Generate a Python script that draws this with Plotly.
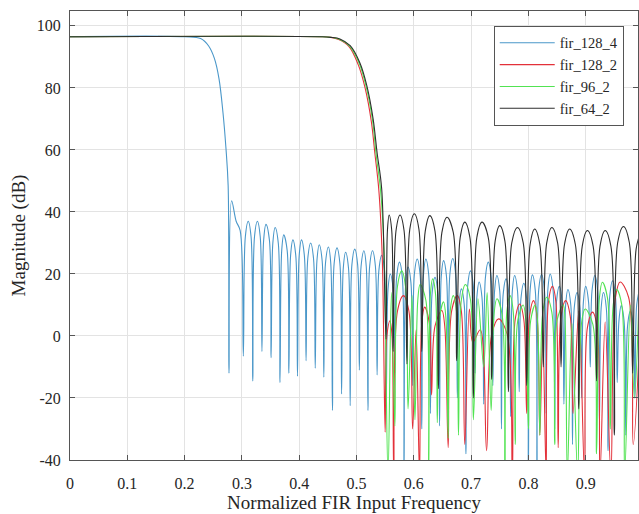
import plotly.graph_objects as go

# ---- values: (normalized frequency, magnitude in dB) ----
blue_pts = [
    (0.0, 96.5), (0.20, 96.5), (0.228, 95.9), (0.242, 93.5), (0.252, 89.5), (0.260, 83.0),
    (0.267, 72.0), (0.272, 61.0), (0.276, 48.5), (0.2775, -12.0), (0.282, 43.6), (0.290, 37.0),
    (0.297, 34.0),
    (0.3025, -6.5), (0.306, 32.0), (0.311, 37.0), (0.316, 32.0),
    (0.319, -14.5), (0.322, 32.0), (0.327, 37.0), (0.332, 32.0),
    (0.335, -5.0), (0.338, 31.0), (0.342, 36.0), (0.348, 31.0),
    (0.351, -7.0), (0.354, 30.0), (0.358, 35.0), (0.3635, 30.0),
    (0.3665, -15.0), (0.3695, 27.6), (0.373, 32.6), (0.379, 27.6),
    (0.382, -12.0), (0.385, 26.0), (0.389, 31.0), (0.394, 26.0),
    (0.397, -13.0), (0.400, 26.0), (0.404, 31.0), (0.409, 26.0),
    (0.412, -8.0), (0.415, 25.0), (0.420, 30.0), (0.425, 25.0),
    (0.428, -10.4), (0.431, 24.4), (0.435, 29.4), (0.440, 24.4),
    (0.443, -13.3), (0.446, 23.7), (0.451, 28.7), (0.455, 23.7),
    (0.458, -24.0), (0.461, 23.4), (0.466, 28.4), (0.471, 23.4),
    (0.474, -18.7), (0.477, 22.0), (0.481, 27.0), (0.486, 22.0),
    (0.489, -22.5), (0.492, 23.0), (0.497, 28.0), (0.502, 23.0),
    (0.505, -11.0), (0.508, 22.5), (0.513, 27.5), (0.517, 22.5),
    (0.520, -24.0), (0.523, 22.5), (0.528, 27.5), (0.533, 22.5),
    (0.536, -12.6), (0.539, 21.0), (0.544, 26.0), (0.549, 21.0),
    (0.552, -20.0), (0.555, 15.0), (0.559, 20.0), (0.564, 15.0),
    (0.567, -12.0), (0.570, 18.8), (0.575, 23.8), (0.580, 18.8),
    (0.583, -45.0), (0.586, 17.2), (0.590, 22.2), (0.595, 17.2),
    (0.598, -16.0), (0.601, 19.8), (0.606, 24.8), (0.611, 19.8),
    (0.614, -30.0), (0.617, 19.8), (0.621, 24.8), (0.626, 19.8),
    (0.629, -25.0), (0.632, 13.9), (0.637, 18.9), (0.642, 13.9),
    (0.645, -29.0), (0.648, 19.3), (0.652, 24.3), (0.657, 19.3),
    (0.660, -14.0), (0.663, 20.0), (0.668, 25.0), (0.673, 20.0),
    (0.676, -20.0), (0.679, 10.2), (0.683, 15.2), (0.688, 10.2),
    (0.691, -38.0), (0.694, 16.0), (0.699, 21.0), (0.704, 16.0),
    (0.707, -12.0), (0.710, 12.4), (0.714, 17.4), (0.719, 12.4),
    (0.722, -22.0), (0.725, 18.8), (0.730, 23.8), (0.735, 18.8),
    (0.738, -16.0), (0.741, 14.5), (0.745, 19.5), (0.750, 14.5),
    (0.753, -30.0), (0.756, 13.4), (0.761, 18.4), (0.766, 13.4),
    (0.769, -26.0), (0.772, 14.5), (0.776, 19.5), (0.781, 14.5),
    (0.784, -18.0), (0.787, 12.0), (0.792, 17.0), (0.797, 12.0),
    (0.800, -45.0), (0.803, 14.7), (0.807, 19.7), (0.812, 14.7),
    (0.815, -45.0), (0.818, 14.8), (0.823, 19.8), (0.828, 14.8),
    (0.831, -25.0), (0.834, 15.0), (0.838, 20.0), (0.843, 15.0),
    (0.846, -30.0), (0.849, 11.0), (0.854, 16.0), (0.859, 11.0),
    (0.862, -22.0), (0.865, 10.0), (0.869, 15.0), (0.874, 10.0),
    (0.877, -35.0), (0.880, 9.0), (0.885, 14.0), (0.890, 9.0),
    (0.893, -20.0), (0.896, 11.0), (0.900, 16.0), (0.905, 11.0),
    (0.908, -10.0), (0.911, 14.5), (0.916, 19.5), (0.921, 14.5),
    (0.924, -28.0), (0.927, 9.0), (0.931, 14.0), (0.936, 9.0),
    (0.939, -37.0), (0.942, 12.8), (0.947, 17.8), (0.952, 12.8),
    (0.955, -15.0), (0.958, 4.8), (0.962, 9.8), (0.967, 4.8),
    (0.970, -32.0), (0.973, 3.0), (0.978, 8.0), (0.983, 3.0),
    (0.986, -20.0), (0.989, 10.0), (0.994, 15.0),
]

red_pts = [
    (0.0, 96.5), (0.44, 96.5), (0.455, 96.3), (0.469, 95.6), (0.487, 93.3), (0.503, 87.5),
    (0.515, 80.0), (0.526, 69.0), (0.532, 59.0), (0.539, 47.0), (0.545, 25.0),
    (0.550, -31.0), (0.553, 0.0), (0.5585, 4.9), (0.562, 0.0),
    (0.565, -45.0), (0.5715, 8.0), (0.582, 13.0), (0.5915, 8.0),
    (0.598, -30.0), (0.604, 2.0),
    (0.610, -45.0), (0.614, 4.3), (0.619, 9.3), (0.627, 4.3),
    (0.631, -19.0), (0.637, 3.2), (0.649, 8.2), (0.654, 3.2),
    (0.660, -36.0), (0.666, 8.0), (0.676, 13.0), (0.683, 8.0),
    (0.689, -35.0), (0.697, 8.7), (0.703, -2.0), (0.716, 2.0),
    (0.727, -37.0), (0.736, 0.5), (0.748, 5.5), (0.763, 0.5),
    (0.772, -45.0), (0.777, 5.3), (0.785, 10.3), (0.792, 5.3),
    (0.797, -25.0), (0.802, 6.4), (0.809, 11.4), (0.815, 6.4),
    (0.820, -32.0), (0.825, 2.0),
    (0.831, -45.0), (0.835, 11.0), (0.842, 16.0), (0.848, 11.0),
    (0.852, -36.0), (0.857, 6.4), (0.865, 11.4), (0.873, 6.4),
    (0.878, -25.0), (0.888, 8.0),
    (0.898, -45.0), (0.903, 2.7), (0.912, 7.7), (0.920, 2.7),
    (0.925, -45.0), (0.934, 4.5),
    (0.944, -45.0), (0.952, 12.4), (0.960, 17.4), (0.975, 12.4),
    (0.983, -35.0), (0.995, 3.0),
]

green_pts = [
    (0.0, 96.5), (0.44, 96.5), (0.455, 96.3), (0.470, 95.7), (0.488, 93.5), (0.505, 87.8),
    (0.517, 80.3), (0.528, 69.5), (0.534, 59.0), (0.542, 47.0), (0.548, 28.0),
    (0.555, -45.0), (0.561, 14.0),
    (0.567, -29.0), (0.5715, 16.0), (0.579, 21.0), (0.5855, 16.0),
    (0.590, -23.5), (0.597, 13.0),
    (0.602, -27.0), (0.607, 11.6), (0.611, 16.6), (0.621, 11.6),
    (0.626, -45.0), (0.629, 13.4), (0.633, 18.4), (0.638, 13.4),
    (0.641, -28.0), (0.645, 6.0), (0.652, 11.0), (0.656, 6.0),
    (0.660, -33.0), (0.6635, 8.0), (0.669, 13.0), (0.6745, 8.0),
    (0.678, -32.0), (0.683, 11.6), (0.690, 16.6), (0.699, 11.6),
    (0.704, -27.0), (0.712, 12.0), (0.722, -10.0), (0.728, 14.0),
    (0.735, -24.0), (0.740, 7.0), (0.745, 12.0), (0.754, 7.0),
    (0.759, -45.0), (0.7625, 8.0), (0.768, 13.0), (0.7735, 8.0),
    (0.777, -35.0), (0.7815, 5.0), (0.791, 10.0), (0.7955, 5.0),
    (0.800, -30.0), (0.804, 5.0), (0.812, 10.0), (0.816, 5.0),
    (0.820, -32.0), (0.825, 7.5), (0.832, 12.5), (0.841, 7.5),
    (0.846, -35.0), (0.850, 5.0), (0.861, 10.0), (0.864, 5.0),
    (0.868, -45.0), (0.876, 4.0),
    (0.886, -45.0), (0.8925, 3.7), (0.899, 8.7), (0.9125, 3.7),
    (0.919, -38.0), (0.924, 12.3), (0.929, 17.3), (0.938, 12.3),
    (0.943, -30.0), (0.948, 10.0), (0.954, 15.0), (0.963, 10.0),
    (0.968, -45.0), (0.978, 10.0), (0.985, -20.0), (0.993, 12.0),
]

black_pts = [
    (0.0, 96.5), (0.44, 96.5), (0.455, 96.3), (0.471, 95.8), (0.489, 93.6), (0.506, 88.0),
    (0.518, 80.7), (0.529, 70.0), (0.536, 59.0), (0.544, 47.4), (0.5515, -1.0),
    (0.554, 34.0), (0.557, 39.0), (0.5615, 34.0),
    (0.564, -5.0), (0.569, 34.0), (0.576, 39.0), (0.583, 34.0),
    (0.588, -9.0), (0.593, 34.4), (0.601, 39.4), (0.609, 34.4),
    (0.614, -5.0), (0.620, 33.8), (0.628, 38.8), (0.637, 33.8),
    (0.643, -17.0), (0.649, 33.3), (0.658, 38.3), (0.669, 33.3),
    (0.675, -8.0), (0.681, 31.7), (0.689, 36.7), (0.698, 31.7),
    (0.704, -20.0), (0.710, 31.7), (0.719, 36.7), (0.730, 31.7),
    (0.736, -14.0), (0.742, 30.6), (0.750, 35.6), (0.759, 30.6),
    (0.765, -18.0), (0.771, 30.0), (0.781, 35.0), (0.791, 30.0),
    (0.797, -16.0), (0.803, 29.5), (0.811, 34.5), (0.820, 29.5),
    (0.826, -10.0), (0.832, 30.0), (0.841, 35.0), (0.851, 30.0),
    (0.857, -10.0), (0.863, 29.5), (0.872, 34.5), (0.882, 29.5),
    (0.888, -23.5), (0.894, 29.0), (0.903, 34.0), (0.913, 29.0),
    (0.919, -14.5), (0.925, 29.0), (0.934, 34.0), (0.944, 29.0),
    (0.950, -32.0), (0.956, 30.3), (0.966, 35.3), (0.976, 30.3),
    (0.982, -12.0), (0.988, 28.0), (0.995, 33.0),
]

names = ["fir_128_4", "fir_128_2", "fir_96_2", "fir_64_2"]
colors = ["#4a97c9", "#e3313a", "#52e352", "#2e2e2e"]
series = [blue_pts, red_pts, green_pts, black_pts]

x_ticks = [0, 0.1, 0.2, 0.3, 0.4, 0.5, 0.6, 0.7, 0.8, 0.9]
x_tick_text = ["0", "0.1", "0.2", "0.3", "0.4", "0.5", "0.6", "0.7", "0.8", "0.9"]
y_ticks = [-40, -20, 0, 20, 40, 60, 80, 100]
y_tick_text = ["-40", "-20", "0", "20", "40", "60", "80", "100"]

fig = go.Figure()
for n, c, pts in zip(names, colors, series):
    fig.add_trace(go.Scatter(x=[p[0] for p in pts], y=[p[1] for p in pts],
                             mode="lines", name=n,
                             line=dict(color=c, width=1.1, shape="spline", smoothing=1.0)))

font = "Liberation Serif, Times New Roman, serif"
fig.update_layout(
    width=639, height=514,
    margin=dict(l=70, r=1, t=11, b=54),
    paper_bgcolor="white", plot_bgcolor="white",
    font=dict(family=font, size=16, color="#262626"),
    showlegend=True,
    legend=dict(x=0.746, y=0.967, xanchor="left", yanchor="top",
                bgcolor="white", bordercolor="#555555", borderwidth=1,
                font=dict(family=font, size=14.5, color="#262626"),
                itemwidth=55, tracegroupgap=0),
)
axis_common = dict(showline=True, linecolor="#555555", linewidth=1, mirror="ticks",
                   ticks="inside", ticklen=5, tickcolor="#555555",
                   showgrid=True, gridcolor="#e3e3e3", gridwidth=1, zeroline=False,
                   tickfont=dict(family=font, size=16, color="#262626"))
fig.update_xaxes(range=[0, 0.9913], tickvals=x_ticks, ticktext=x_tick_text,
                 ticklabelstandoff=9,
                 title=dict(text="Normalized FIR Input Frequency",
                            font=dict(family=font, size=19, color="#262626"), standoff=2),
                 **axis_common)
fig.update_yaxes(range=[-40, 104.8], tickvals=y_ticks, ticktext=y_tick_text,
                 ticklabelstandoff=5,
                 title=dict(text="Magnitude (dB)",
                            font=dict(family=font, size=19, color="#262626"), standoff=6),
                 **axis_common)

fig.write_html("out.html")
